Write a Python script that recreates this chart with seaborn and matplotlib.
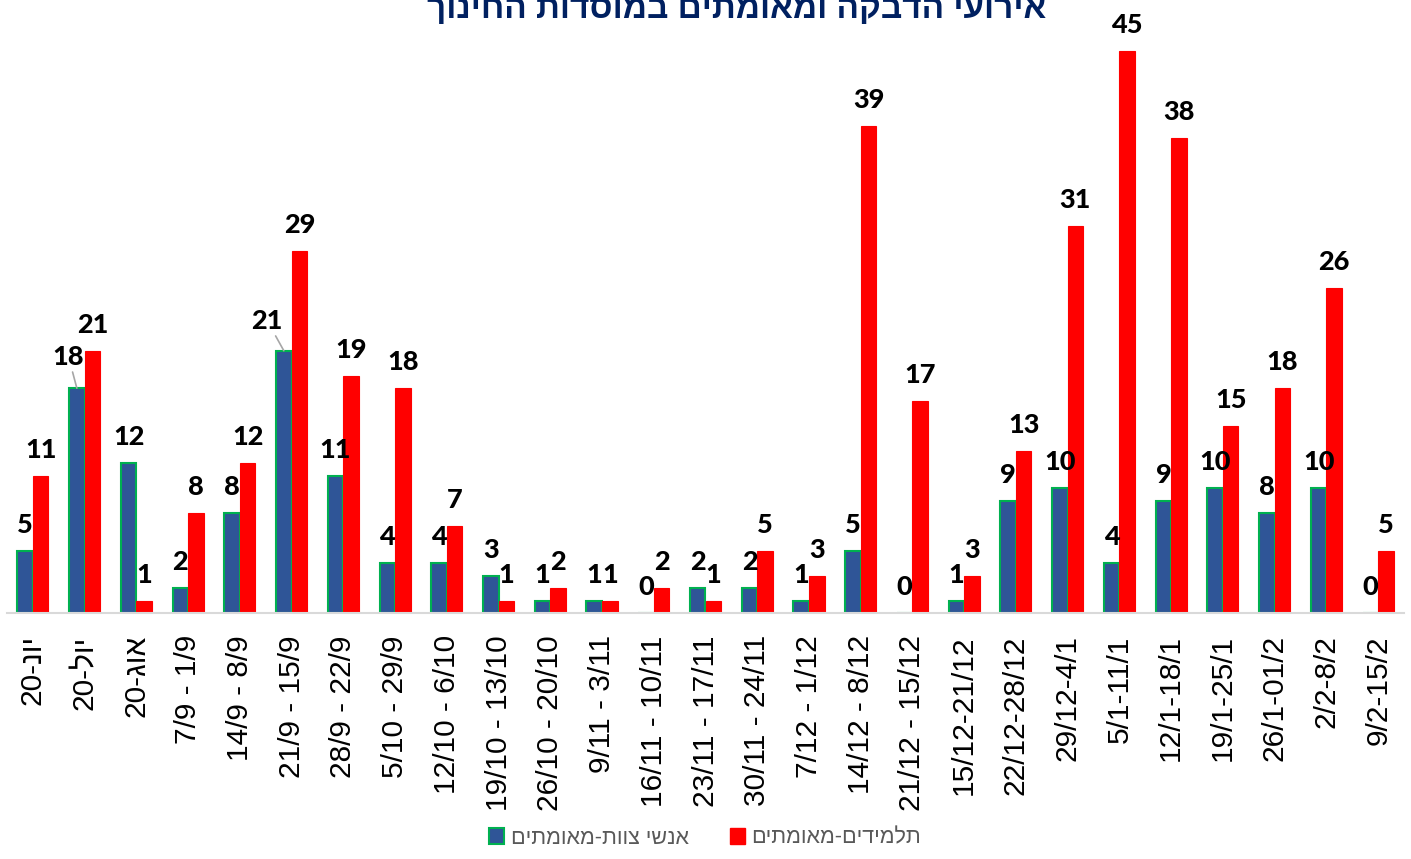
import matplotlib
matplotlib.use("Agg")
import matplotlib.pyplot as plt
from matplotlib.patches import Patch
import seaborn as sns
import pandas as pd

# ---------------- data ----------------
# tick labels written in visual (left-to-right) order, as displayed
periods = [
    "20-נוי", "20-לוי", "20-גוא", "7/9 - 1/9", "14/9 - 8/9", "21/9 - 15/9",
    "28/9 - 22/9", "5/10 - 29/9", "12/10 - 6/10", "19/10 - 13/10",
    "26/10 - 20/10", "9/11 - 3/11", "16/11 - 10/11", "23/11 - 17/11",
    "30/11 - 24/11", "7/12 - 1/12", "14/12 - 8/12", "21/12 - 15/12",
    "15/12-21/12", "22/12-28/12", "29/12-4/1", "5/1-11/1", "12/1-18/1",
    "19/1-25/1", "26/1-01/2", "2/2-8/2", "9/2-15/2",
]
staff = [5, 18, 12, 2, 8, 21, 11, 4, 4, 3, 1, 1, 0, 2, 2, 1, 5, 0, 1, 9, 10, 4, 9, 10, 8, 10, 0]
students = [11, 21, 1, 8, 12, 29, 19, 18, 7, 1, 2, 1, 2, 1, 5, 3, 39, 17, 3, 13, 31, 45, 38, 15, 18, 26, 5]

series_staff = "אנשי צוות-מאומתים"
series_students = "תלמידים-מאומתים"
title_text = "אירועי הדבקה ומאומתים במוסדות החינוך"


def vis(s):
    """Hebrew logical -> visual order (matplotlib has no bidi)."""
    return s[::-1]


df = pd.DataFrame({
    "period": periods * 2,
    "value": staff + students,
    "series": [series_staff] * len(periods) + [series_students] * len(periods),
})

# ---------------- style ----------------
BLUE = "#2F5597"
GREEN = "#00B050"
RED = "#FF0000"
HEB = ["Liberation Sans", "DejaVu Sans"]
NUM = ["Lato", "DejaVu Sans"]

sns.set_theme(style="white")
plt.rcParams["font.family"] = HEB

W, H = 1411, 859
fig = plt.figure(figsize=(W / 100, H / 100), dpi=100)
ax = fig.add_axes([7 / W, 246 / H, 1397 / W, 612 / H])

sns.barplot(data=df, x="period", y="value", hue="series", order=periods,
            hue_order=[series_staff, series_students],
            palette=[BLUE, RED], width=0.6, dodge=True, legend=False,
            saturation=1, ax=ax)

for p in ax.containers[0]:
    p.set_edgecolor(GREEN)
    p.set_linewidth(1.5)
for p in ax.containers[1]:
    p.set_edgecolor(RED)
    p.set_linewidth(0.8)

ax.set_xlim(-0.5, len(periods) - 0.5)
ax.set_ylim(0, 49)
ax.set_xlabel("")
ax.set_ylabel("")
ax.set_yticks([])
for s in ["left", "right", "top"]:
    ax.spines[s].set_visible(False)
ax.spines["bottom"].set_color("#D9D9D9")
ax.spines["bottom"].set_linewidth(1.5)
ax.tick_params(axis="x", length=0, pad=16)
ax.set_xticks(range(len(periods)))
ax.set_xticklabels(periods, rotation=90, fontsize=21.5, color="black",
                   family=HEB)

# ---------------- data labels ----------------
# special offsets (points) for the two labels drawn with leader lines
special = {(0, 1): (-6, 14), (0, 5): (-12, 13)}
for ci, cont in enumerate(ax.containers):
    vals = staff if ci == 0 else students
    for i, (p, v) in enumerate(zip(cont, vals)):
        x = p.get_x() + p.get_width() / 2
        y = p.get_height()
        kw = dict(ha="center", va="bottom", fontsize=19.5, fontweight=900,
                  family=NUM, color="black", textcoords="offset points",
                  annotation_clip=False)
        if (ci, i) in special:
            ax.annotate(str(v), (x, y), xytext=special[(ci, i)],
                        arrowprops=dict(arrowstyle="-", color="#A6A6A6", lw=1.2,
                                        shrinkA=0, shrinkB=0), **kw)
        else:
            ax.annotate(str(v), (x, y), xytext=(0, 10), **kw)

# ---------------- title ----------------
fig.text(737 / W, 1 - 18 / H, vis(title_text), ha="center", va="baseline",
         fontsize=24, fontweight="bold", color="#002060", family=HEB)

# ---------------- legend ----------------
handles = [
    Patch(facecolor=BLUE, edgecolor=GREEN, linewidth=1.5, label=vis(series_staff)),
    Patch(facecolor=RED, edgecolor=RED, label=vis(series_students)),
]
fig.legend(handles=handles, loc="center", bbox_to_anchor=(705 / W, 1 - 838 / H),
           ncol=2, frameon=False, handlelength=0.7, handleheight=0.7,
           handletextpad=0.3, columnspacing=1.9, labelcolor="#595959",
           prop={"family": HEB, "size": 15.5})

fig.savefig("out.png", dpi=100)
